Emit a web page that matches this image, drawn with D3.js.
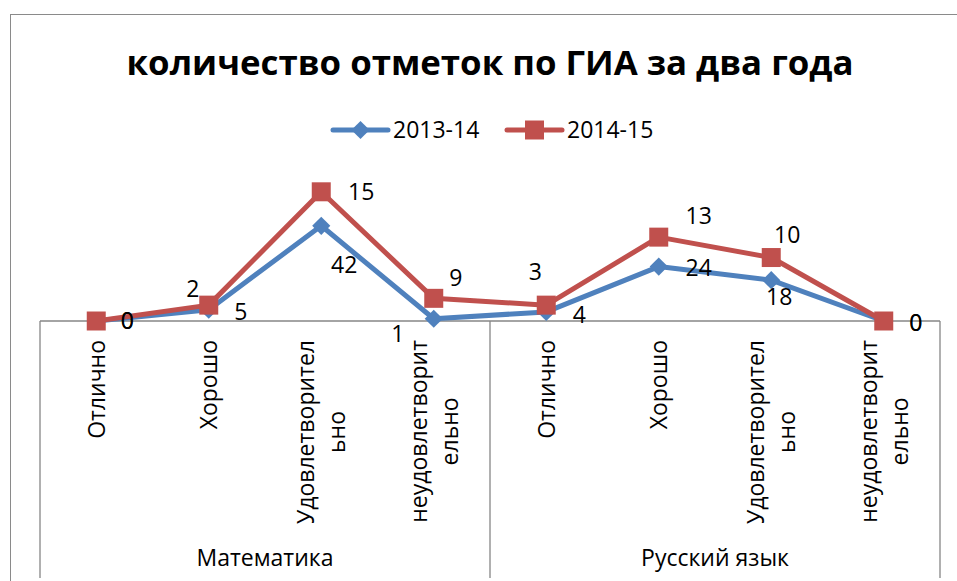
<!DOCTYPE html>
<html>
<head>
<meta charset="utf-8">
<script src="https://cdn.jsdelivr.net/npm/d3@7/dist/d3.min.js"></script>
<style>
	html, body { margin: 0; padding: 0; background: #fff; }
	svg { display: block; font-family: 'Open Sans', 'Noto Sans', sans-serif; }
</style>
</head>
<body>
<div id="chart"></div>
<script>
	'use strict';

	// data
	var chartTitle = 'количество отметок по ГИА за два года';
	var subjects = ['Математика', 'Русский язык'];
	var grades = [['Отлично'], ['Хорошо'], ['Удовлетворител', 'ьно'], ['неудовлетворит', 'ельно']];
	var seriesNames = ['2013-14', '2014-15'];
	var values2013 = [0, 5, 42, 1, 4, 24, 18, 0];
	var values2014 = [0, 2, 15, 9, 3, 13, 10, 0];

	// label nudges (as placed by hand in the original chart), [dx, dy] from the marker
	var labelShift2013 = [[31, 0], [32, 2], [23, 39], [-36, 15], [33, 3], [40, 1], [8, 17], [32, 2]];
	var labelShift2014 = [[31, 0], [-16, -16], [40, 0], [22, -21], [-11, -33], [40, -21], [16, -23], [32, 2]];

	var colors = ['#4F81BD', '#C0504D'];
	var width = 957, height = 581;
	var plot = {left: 40, right: 940, base: 321, top: 185};
	var fontSize = 23;

	var svg = d3.select('#chart').append('svg')
		.attr('width', width)
		.attr('height', height);

	// chart frame
	svg.append('rect')
		.attr('x', 10.5).attr('y', 14.5)
		.attr('width', 980).attr('height', 600)
		.attr('fill', 'none')
		.attr('stroke', '#8a8a8a')
		.attr('stroke-width', 1);

	svg.append('text')
		.attr('x', 490).attr('y', 75)
		.attr('text-anchor', 'middle')
		.attr('font-size', 34.8)
		.attr('font-weight', 'bold')
		.text(chartTitle);

	// categories: subject x grade
	var categories = [];
	subjects.forEach(function (s, si) {
		grades.forEach(function (g, gi) {
			categories.push({id: si + '-' + gi, subject: s, lines: g});
		});
	});

	var x = d3.scalePoint()
		.domain(categories.map(function (c) { return c.id; }))
		.range([plot.left, plot.right])
		.padding(0.5);

	var y = d3.scaleLinear()
		.domain([0, 60])
		.range([plot.base, plot.top]);

	// stacked lines
	var rows = categories.map(function (c, i) {
		return {id: c.id, a: values2013[i], b: values2014[i]};
	});
	var stacked = d3.stack().keys(['a', 'b'])(rows);

	// category axis
	var axis = svg.append('g').attr('stroke', '#868686').attr('stroke-width', 1.3);
	axis.append('line')
		.attr('x1', plot.left).attr('x2', plot.right)
		.attr('y1', plot.base).attr('y2', plot.base);
	var groupEdges = [plot.left, (plot.left + plot.right) / 2, plot.right];
	axis.selectAll('line.sep').data(groupEdges).enter().append('line')
		.attr('class', 'sep')
		.attr('x1', function (d) { return d; }).attr('x2', function (d) { return d; })
		.attr('y1', plot.base).attr('y2', 578);

	var catLabels = svg.append('g').attr('font-size', fontSize).attr('fill', '#000');
	categories.forEach(function (c) {
		var g = catLabels.append('g');
		var texts = c.lines.map(function (line, li) {
			return g.append('text')
				.attr('text-anchor', 'middle')
				.attr('y', 8.5 + (li - (c.lines.length - 1) / 2) * 31)
				.text(line);
		});
		var maxLen = d3.max(texts, function (t) { return t.node().getComputedTextLength(); });
		texts.forEach(function (t) { t.attr('x', -maxLen / 2); });
		g.attr('transform', 'translate(' + x(c.id) + ',340) rotate(-90)');
	});

	svg.append('g').attr('font-size', fontSize)
		.selectAll('text').data(subjects).enter().append('text')
		.attr('x', function (d, i) { return (groupEdges[i] + groupEdges[i + 1]) / 2; })
		.attr('y', 566)
		.attr('text-anchor', 'middle')
		.text(function (d) { return d; });

	var line = d3.line()
		.x(function (d) { return x(d.data.id); })
		.y(function (d) { return y(d[1]); });

	var diamond = d3.symbol().type(d3.symbolSquare).size(165);
	var square = d3.symbol().type(d3.symbolSquare).size(361);

	stacked.forEach(function (layer, si) {
		svg.append('path')
			.datum(layer)
			.attr('fill', 'none')
			.attr('stroke', colors[si])
			.attr('stroke-width', 5)
			.attr('stroke-linejoin', 'round')
			.attr('d', line);
	});

	stacked.forEach(function (layer, si) {
		svg.append('g').selectAll('path').data(layer).enter().append('path')
			.attr('fill', colors[si])
			.attr('d', si === 0 ? diamond : square)
			.attr('transform', function (d) {
				return 'translate(' + x(d.data.id) + ',' + y(d[1]) + ')' + (si === 0 ? ' rotate(45)' : '');
			});
	});

	// data labels show each series' own value
	var labelSets = [[values2013, labelShift2013], [values2014, labelShift2014]];
	labelSets.forEach(function (set, si) {
		svg.append('g').attr('font-size', fontSize)
			.selectAll('text').data(stacked[si]).enter().append('text')
			.attr('text-anchor', 'middle')
			.attr('dy', '0.36em')
			.attr('x', function (d, i) { return x(d.data.id) + set[1][i][0]; })
			.attr('y', function (d, i) { return y(d[1]) + set[1][i][1]; })
			.text(function (d, i) { return set[0][i]; });
	});

	// legend
	var legendX = [333, 507];
	var legend = svg.append('g').selectAll('g').data(seriesNames).enter().append('g')
		.attr('transform', function (d, i) { return 'translate(' + legendX[i] + ',130)'; });
	legend.append('line')
		.attr('x1', 0).attr('x2', 55)
		.attr('stroke', function (d, i) { return colors[i]; })
		.attr('stroke-width', 5)
		.attr('stroke-linecap', 'round');
	legend.append('path')
		.attr('fill', function (d, i) { return colors[i]; })
		.attr('d', function (d, i) { return i === 0 ? diamond() : square(); })
		.attr('transform', function (d, i) { return 'translate(27.5,0)' + (i === 0 ? ' rotate(45)' : ''); });
	legend.append('text')
		.attr('x', 60).attr('y', 8)
		.attr('font-size', fontSize)
		.text(function (d) { return d; });
</script>
</body>
</html>
